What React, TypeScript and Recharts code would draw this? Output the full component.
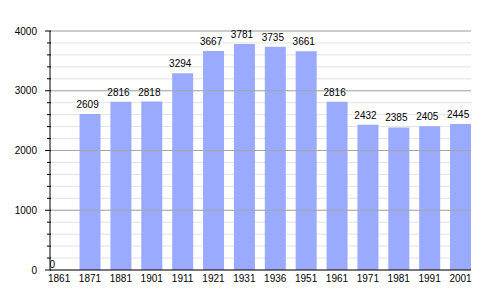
import React from 'react';
import { ComposedChart, Bar, Scatter, XAxis, YAxis, CartesianGrid, ReferenceLine } from 'recharts';

const years = ['1861', '1871', '1881', '1901', '1911', '1921', '1931', '1936', '1951', '1961', '1971', '1981', '1991', '2001'];
const population = [0, 2609, 2816, 2818, 3294, 3667, 3781, 3735, 3661, 2816, 2432, 2385, 2405, 2445];
const yTicks = [0, 200, 400, 600, 800, 1000, 1200, 1400, 1600, 1800, 2000, 2200, 2400, 2600, 2800, 3000, 3200, 3400, 3600, 3800, 4000];
const majorLines = [1000, 2000, 3000, 4000];
const xTicks = [0, 1, 2, 3, 4, 5, 6, 7, 8, 9, 10, 11, 12, 13];

const data = years.map((year, i) => ({ idx: i, year, value: population[i] }));

const FONT = '"Liberation Sans", Arial, sans-serif';

const YTick = (props: any) => {
  const { x, y, payload } = props;
  const v = payload.value;
  const major = v % 1000 === 0;
  return (
    <g>
      <line x1={major ? x - 5 : x - 3} x2={x + 1} y1={y} y2={y} stroke="#000" strokeWidth={1} />
      {major && (
        <text x={x - 13} y={y} dy="0.35em" textAnchor="end" fontSize={10} fontFamily={FONT} fill="#000">
          {v}
        </text>
      )}
    </g>
  );
};

const LabelShape = (props: any) => {
  const { cx, cy, payload } = props;
  const value = payload.value;
  const zero = value === 0;
  return (
    <text
      x={zero ? cx - 9.5 : cx - 13.5}
      y={zero ? cy - 2 : cy - 6}
      textAnchor="start"
      fontSize={10}
      fontFamily={FONT}
      fill="#000"
    >
      {value}
    </text>
  );
};

export default function App() {
  return (
    <div style={{ position: 'absolute', left: 0, top: 0, width: 500, height: 300, background: '#fff' }}>
      <ComposedChart width={500} height={300} data={data} margin={{ top: 31, right: 29, bottom: 0, left: 0 }}>
        <CartesianGrid vertical={false} stroke="#e2e2e2" />
        {majorLines.map((v) => (
          <ReferenceLine key={v} y={v} stroke="#a6a6a6" ifOverflow="visible" />
        ))}
        <XAxis
          type="number"
          dataKey="idx"
          domain={[-0.295, 13.34]}
          ticks={xTicks}
          allowDataOverflow
          interval={0}
          tickFormatter={(i: number) => years[i]}
          tickLine={false}
          tickSize={0}
          tickMargin={5}
          height={30}
          axisLine={{ stroke: '#000' }}
          tick={{ fontSize: 10, fontFamily: FONT, fill: '#000' }}
        />
        <YAxis
          type="number"
          domain={[0, 4000]}
          ticks={yTicks}
          interval={0}
          width={50}
          tickLine={false}
          tickSize={0}
          tickMargin={0}
          axisLine={{ stroke: '#000' }}
          tick={<YTick />}
        />
        <Bar dataKey="value" fill="#99aaff" barSize={21} isAnimationActive={false} />
        <Scatter dataKey="value" shape={<LabelShape />} isAnimationActive={false} />
      </ComposedChart>
    </div>
  );
}
